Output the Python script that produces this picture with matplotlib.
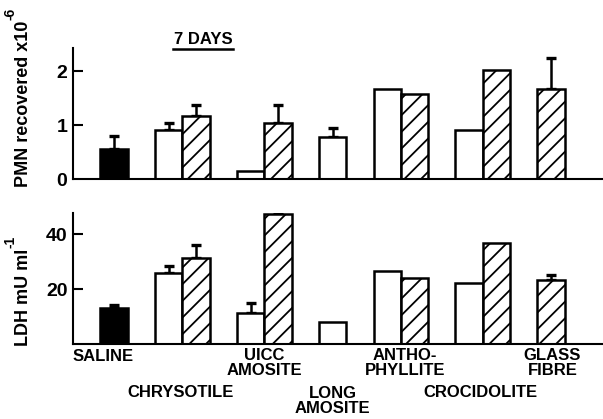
import matplotlib
matplotlib.use("Agg")
import matplotlib.pyplot as plt
from matplotlib.transforms import blended_transform_factory

plt.rcParams["font.family"] = ["Liberation Sans", "DejaVu Sans"]
plt.rcParams["font.weight"] = "bold"
plt.rcParams["hatch.linewidth"] = 1.3

# Bars, left to right (saline, then open / hatched pairs)
bar_kind = ["saline", "open", "hatch", "open", "hatch", "open",
            "open", "hatch", "open", "hatch", "hatch"]
pmn_vals = [0.56, 0.91, 1.17, 0.15, 1.03, 0.77, 1.67, 1.58, 0.90, 2.03, 1.67]
pmn_err = [0.24, 0.12, 0.20, 0, 0.34, 0.18, 0, 0, 0, 0, 0.58]
ldh_vals = [12.9, 26.0, 31.4, 11.1, 47.3, 8.0, 26.6, 23.9, 22.1, 36.9, 23.3]
ldh_err = [1.2, 2.4, 4.6, 3.7, 2.7, 0, 0, 0, 0, 0, 1.8]

groups = ["SALINE", "CHRYSOTILE", "UICC\nAMOSITE", "LONG\nAMOSITE",
          "ANTHO-\nPHYLLITE", "CROCIDOLITE", "GLASS\nFIBRE"]

# layout: left edge of each bar (bar width = 1)
bar_left = [1, 3, 4, 6, 7, 9, 11, 12, 14, 15, 17]
label_x = [1.1, 3.95, 7.0, 9.5, 12.15, 14.9, 17.55]
label_y = [356, 392, 363, 401, 363, 392, 363]  # pixel rows from top

W, H = 603, 419
fig = plt.figure(figsize=(W / 100, H / 100), dpi=100)
ax1 = fig.add_axes([73 / W, 1 - 179 / H, 1 - 73 / W, (179 - 48) / H])
ax2 = fig.add_axes([73 / W, 1 - 343.7 / H, 1 - 73 / W, (343.7 - 213) / H])


def draw_panel(ax, vals, errs, ymax, yticks):
    for x0, v, e, k in zip(bar_left, vals, errs, bar_kind):
        if e > 0:
            ax.errorbar(x0 + 0.5, v, yerr=[[0], [e]], fmt="none", ecolor="black",
                        elinewidth=1.8, capsize=3.5, capthick=2.4, zorder=1)
        if k == "saline":
            ax.bar(x0, v, width=1, align="edge", facecolor="black",
                   edgecolor="black", linewidth=1.8, zorder=2)
        else:
            ax.bar(x0, v, width=1, align="edge", facecolor="white",
                   edgecolor="black", linewidth=1.8, zorder=2,
                   hatch="//" if k == "hatch" else None)
    ax.set_xlim(0, 19.4)
    ax.set_ylim(0, ymax)
    ax.spines[["top", "right"]].set_visible(False)
    ax.spines["left"].set_linewidth(1.5)
    ax.spines["bottom"].set_linewidth(1.5)
    ax.set_xticks([])
    ax.set_yticks(yticks)
    ax.tick_params(axis="y", direction="in", length=7, width=1.5, pad=4,
                   labelsize=14)
    for t in ax.get_yticklabels():
        t.set_fontweight("bold")


draw_panel(ax1, pmn_vals, pmn_err, 2.43, [0, 1, 2])
draw_panel(ax2, ldh_vals, ldh_err, 47.8, [20, 40])
ax1.yaxis.get_major_ticks()[0].tick1line.set_visible(False)

# y labels: main text with a separate superscript placed above its end
renderer = fig.canvas.get_renderer()
for base, sup, yb in [("PMN recovered x10", "-6", 187), ("LDH mU ml", "-1", 346)]:
    t = fig.text(24 / W, 1 - yb / H, base, rotation=90, ha="center", va="bottom",
                 fontsize=13, fontweight="bold")
    bb = t.get_window_extent(renderer)
    fig.text((bb.x0 - 5) / W, (bb.y1 + 1) / H, sup, rotation=90,
             ha="center", va="bottom", fontsize=10, fontweight="bold")

# title with underline
fig.text(203 / W, 1 - 40 / H, "7 DAYS", ha="center", va="center",
         fontsize=12, fontweight="bold")
fig.add_artist(plt.Line2D([173 / W, 233 / W], [1 - 49 / H, 1 - 49 / H],
                          color="black", linewidth=1.8))

tr = blended_transform_factory(ax2.transData, fig.transFigure)
for name, lx, ly in zip(groups, label_x, label_y):
    ax2.text(lx, 1 - ly / H, name, transform=tr, ha="center", va="center",
             fontsize=12, fontweight="bold", linespacing=1.05)

fig.savefig("out.png", dpi=100, facecolor="white")
